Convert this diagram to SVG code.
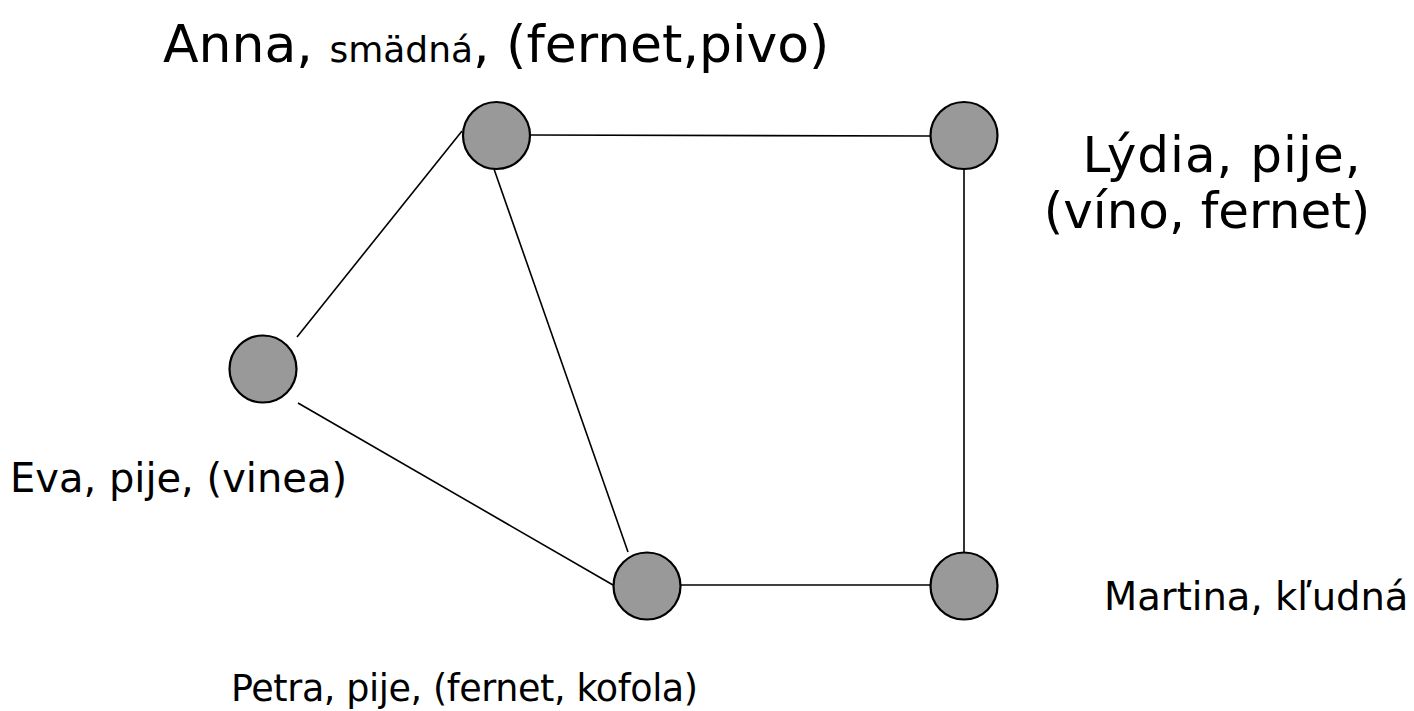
<svg xmlns="http://www.w3.org/2000/svg" width="1414" height="711" viewBox="0 0 1414 711">
<style>
.node{fill:#999999;stroke:#000;stroke-width:2.2}
.edge{stroke:#000;stroke-width:1.6;fill:none}
text{font-family:"DejaVu Sans",Verdana,sans-serif;fill:#000}
.big{font-size:50px}
</style>
<rect width="1414" height="711" fill="#fff"/>
<g id="connectors">
<line class="edge" x1="530" y1="135" x2="930" y2="136"/>
<line class="edge" x1="462" y1="131" x2="297" y2="337"/>
<line class="edge" x1="494" y1="169" x2="628" y2="552"/>
<line class="edge" x1="298" y1="403" x2="613" y2="585"/>
<line class="edge" x1="681" y1="585" x2="930" y2="585"/>
<line class="edge" x1="964" y1="169" x2="964" y2="552"/>
</g>
<g id="anna">
<circle class="node" cx="496.5" cy="135.5" r="33.5"/>
<text x="163" y="62" style="font-size:52px">Anna, <tspan style="font-size:36px">smädná</tspan>, (fernet,pivo)</text>
</g>
<g id="lydia">
<circle class="node" cx="964" cy="135.5" r="33.5"/>
<text class="big" x="1222" y="172" text-anchor="middle" style="letter-spacing:1px">Lýdia, pije,</text>
<text class="big" x="1207" y="228" text-anchor="middle">(víno, fernet)</text>
</g>
<g id="eva">
<circle class="node" cx="263" cy="369" r="33.5"/>
<text x="10" y="492" style="font-size:40px">Eva, pije, (vinea)</text>
</g>
<g id="petra">
<circle class="node" cx="647" cy="586" r="33.5"/>
<text x="231" y="701" style="font-size:36.5px;letter-spacing:-0.4px">Petra, pije, (fernet, kofola)</text>
</g>
<g id="martina">
<circle class="node" cx="964" cy="586" r="33.5"/>
<text x="1104" y="610" style="font-size:38.5px">Martina, kľudná</text>
</g>
</svg>
